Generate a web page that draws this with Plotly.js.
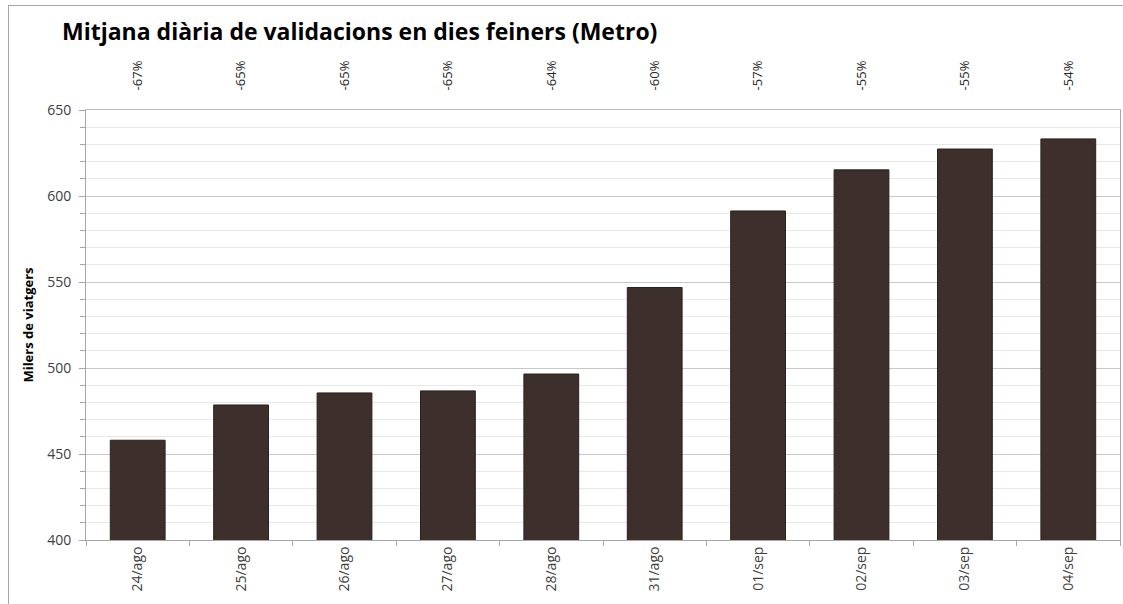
<!DOCTYPE html>
<html>
<head>
<meta charset="utf-8">
<script src="https://cdn.plot.ly/plotly-3.0.1.min.js"></script>
<style>
html,body{margin:0;padding:0;background:#fff;overflow:hidden;}
#wrap{position:relative;width:1123px;height:604px;}
#chart{width:1123px;height:604px;}
#frame{position:absolute;left:8px;top:5px;right:0;bottom:0;border-left:1px solid #a6a6a6;border-top:1px solid #a6a6a6;pointer-events:none;}
</style>
</head>
<body>
<div id="wrap"><div id="chart"></div><div id="frame"></div></div>
<script>
const categories = ["24/ago","25/ago","26/ago","27/ago","28/ago","31/ago","01/sep","02/sep","03/sep","04/sep"];
const values = [458, 478.5, 485.5, 486.7, 496.5, 546.8, 591.3, 615.2, 627.3, 633.2];
const pctLabels = ["-67%","-65%","-65%","-65%","-64%","-60%","-57%","-55%","-55%","-54%"];

const FONT = "Open Sans, Noto Sans, sans-serif";

const traces = [
  {
    type: "bar",
    x: categories,
    y: values,
    marker: {color: "#3d2f2b", line: {color: "#2a201d", width: 1}},
    width: 0.53,
    hoverinfo: "x+y"
  },
  {
    type: "scatter",
    mode: "markers",
    x: categories,
    y: values,
    xaxis: "x2",
    yaxis: "y",
    marker: {opacity: 0},
    hoverinfo: "skip",
    showlegend: false
  }
];

const layout = {
  width: 1123,
  height: 604,
  margin: {l: 86, r: 3, t: 110, b: 64},
  paper_bgcolor: "#ffffff",
  plot_bgcolor: "#ffffff",
  showlegend: false,
  font: {family: FONT, color: "#404040"},
  title: {
    text: "<b>Mitjana diària de validacions en dies feiners (Metro)</b>",
    xref: "container", x: 62/1123, xanchor: "left",
    yref: "container", y: 1 - 32/604, yanchor: "middle",
    font: {family: FONT, size: 23, color: "#000000"}
  },
  xaxis: {
    type: "category",
    categoryorder: "array",
    categoryarray: categories,
    range: [-0.5, 9.5],
    tickson: "boundaries",
    ticks: "outside",
    ticklen: 5,
    tickcolor: "#a6a6a6",
    showline: true,
    linecolor: "#a6a6a6",
    linewidth: 1,
    showgrid: false,
    tickangle: -90,
    tickfont: {family: FONT, size: 14, color: "#404040"},
    fixedrange: true
  },
  xaxis2: {
    type: "category",
    overlaying: "x",
    side: "top",
    categoryorder: "array",
    categoryarray: categories,
    range: [-0.5, 9.5],
    tickmode: "array",
    tickvals: categories,
    ticktext: pctLabels,
    ticks: "",
    showline: true,
    linecolor: "#bfbfbf",
    showgrid: false,
    tickangle: -90,
    ticklabelstandoff: 16,
    tickfont: {family: FONT, size: 13, color: "#262626"},
    fixedrange: true
  },
  yaxis: {
    range: [400, 650],
    tickmode: "linear",
    tick0: 400,
    dtick: 50,
    ticks: "outside",
    ticklen: 6,
    tickcolor: "#a6a6a6",
    showline: true,
    linecolor: "#a6a6a6",
    mirror: true,
    showgrid: true,
    gridcolor: "#c8c8c8",
    gridwidth: 1,
    zeroline: false,
    minor: {
      dtick: 10,
      showgrid: true,
      gridcolor: "#e8e8e8",
      ticks: "outside",
      ticklen: 5,
      tickcolor: "#a6a6a6"
    },
    ticklabelstandoff: 5,
    tickfont: {family: FONT, size: 14, color: "#404040"},
    title: {
      text: "<b>Milers de viatgers</b>",
      font: {family: FONT, size: 13, color: "#000000"},
      standoff: 10
    },
    fixedrange: true
  }
};

Plotly.newPlot("chart", traces, layout, {displayModeBar: false, staticPlot: true});
</script>
</body>
</html>
